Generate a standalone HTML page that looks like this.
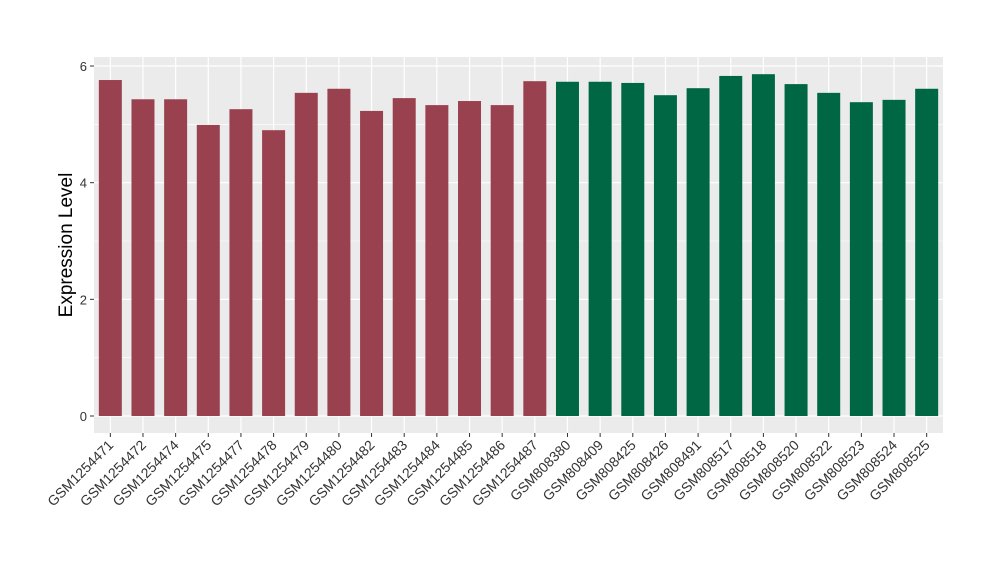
<!DOCTYPE html>
<html><head><meta charset="utf-8"><style>
body{margin:0;background:#fff;font-family:"Liberation Sans",sans-serif}
</style></head><body>
<svg id="chart" width="1000" height="580" xmlns="http://www.w3.org/2000/svg">
<rect x="94" y="57" width="849" height="376" fill="#ebebeb"/>
<g id="grid"></g><g id="bars"></g><g id="axes"></g>
<text transform="translate(72,245) rotate(-90)" text-anchor="middle" font-size="19" fill="#000">Expression Level</text>
</svg>
<script>
const categories=["GSM1254471","GSM1254472","GSM1254474","GSM1254475","GSM1254477","GSM1254478","GSM1254479","GSM1254480","GSM1254482","GSM1254483","GSM1254484","GSM1254485","GSM1254486","GSM1254487","GSM808380","GSM808409","GSM808425","GSM808426","GSM808491","GSM808517","GSM808518","GSM808520","GSM808522","GSM808523","GSM808524","GSM808525"];
const values=[5.76,5.43,5.43,4.99,5.26,4.90,5.54,5.61,5.23,5.45,5.33,5.40,5.33,5.74,5.73,5.73,5.71,5.50,5.62,5.83,5.86,5.69,5.54,5.38,5.42,5.61];
const groups=["a","a","a","a","a","a","a","a","a","a","a","a","a","a","b","b","b","b","b","b","b","b","b","b","b","b"];
const yTicks=[0,2,4,6];
const yMinor=[1,3,5];
const colors={a:"#9a4150",b:"#006745"};
const NS="http://www.w3.org/2000/svg";
const px0=94,px1=943,y0=416,yUnit=58.33;
const step=(px1-px0)/categories.length;
const xs=i=>px0+step*(i+0.5);
const ys=v=>y0-v*yUnit;
function mk(t,a,p){const e=document.createElementNS(NS,t);for(const k in a)e.setAttribute(k,a[k]);p.appendChild(e);return e;}
const grid=document.getElementById('grid'),bars=document.getElementById('bars'),axes=document.getElementById('axes');
yMinor.forEach(v=>{const l=mk('line',{x1:px0,x2:px1,y1:ys(v),y2:ys(v),stroke:'#fff','stroke-width':0.6},grid);

});
yTicks.forEach(v=>{const l=mk('line',{x1:px0,x2:px1,y1:ys(v),y2:ys(v),stroke:'#fff','stroke-width':1.2},grid);


const tk=mk('line',{x1:px0-4,x2:px0,y1:ys(v),y2:ys(v),stroke:'#333'},axes);


const t=mk('text',{x:px0-7,y:ys(v)+5,'text-anchor':'end','font-size':13,fill:'#333'},axes);t.textContent=v;

});
categories.forEach((c,i)=>{const x=xs(i);
const l=mk('line',{x1:x,x2:x,y1:57,y2:433,stroke:'#fff','stroke-width':1.2},grid);


const b=mk('rect',{x:x-11.5,y:ys(values[i]),width:23,height:y0-ys(values[i]),fill:colors[groups[i]]},bars);


const tk=mk('line',{x1:x,x2:x,y1:433,y2:437,stroke:'#333'},axes);


const t=mk('text',{x:x+4,y:446,'text-anchor':'end','font-size':14,fill:'#333',transform:`rotate(-45 ${x+4} 446)`},axes);t.textContent=c;

});
</script>
</body></html>
